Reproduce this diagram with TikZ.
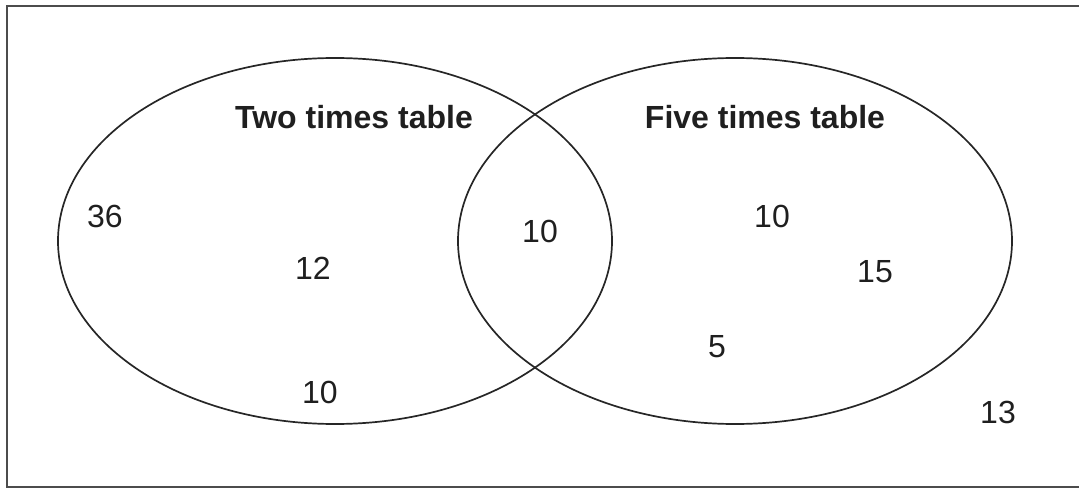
\documentclass[tikz,border=0pt]{standalone}
\usepackage{fontspec}
\setmainfont{Liberation Sans}
\usetikzlibrary{shapes.geometric}
\tikzset{
  set node/.style={ellipse,draw=black!85,line width=1.7pt,minimum width=554pt,minimum height=366pt,inner sep=0pt},
  title node/.style={font=\fontsize{32}{38}\selectfont\bfseries,text=black!88,inner sep=0pt},
  number node/.style={font=\fontsize{32}{38}\selectfont,text=black!88,inner sep=0pt}
}

\begin{document}
\begin{tikzpicture}[x=1pt,y=-1pt]
		    \useasboundingbox (0,0) rectangle (1079,489);
		    \draw [line width=2.4pt,draw=black!70] (7,6) rectangle (1086,487);
		    % the two sets
		    \node [set node] (two) at (335,241) {};
		    \node [set node] (five) at (735,241) {};
		    \node [title node] (twotitle) at (354,117) {Two times table};
		    \node [title node] (fivetitle) at (765,117) {Five times table};
		    % numbers
		    \node [number node] (n36) at (105,216) {36};
		    \node [number node] (n12) at (313,268) {12};
		    \node [number node] (n10a) at (320,392) {10};
		    \node [number node] (n10b) at (540,231) {10};
		    \node [number node] (n10c) at (772,216) {10};
		    \node [number node] (n15) at (875,272) {15};
		    \node [number node] (n5) at (717,347) {5};
		    \node [number node] (n13) at (998,412) {13};
		  \end{tikzpicture}
\end{document}
